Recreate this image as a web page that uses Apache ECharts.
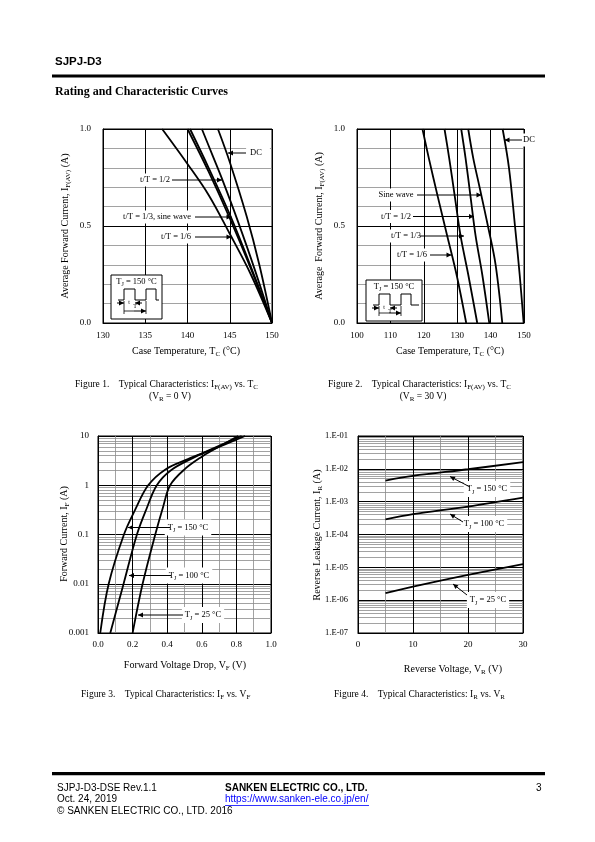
<!DOCTYPE html>
<html><head><meta charset="utf-8">
<script src="https://cdn.jsdelivr.net/npm/echarts@6/dist/echarts.min.js"></script>
<style>html,body{margin:0;padding:0;background:#fff}#c{width:595px;height:842px}</style>
</head><body><div id="c"></div>
<script>
// ---------- data ----------
// Figure 1: IF(AV) vs Tc, VR = 0 V   [Tc, IF]
const fig1_dc    = [[143.6,1.0],[145,0.83],[147,0.55],[148.5,0.3],[150,0]];
const fig1_half  = [[141.7,1.0],[143,0.86],[144.2,0.73],[146,0.52],[148,0.27],[150,0]];
const fig1_sine  = [[140.3,1.0],[142.5,0.8],[145,0.56],[147.5,0.29],[150,0]];
const fig1_third = [[140,1.0],[142.5,0.78],[145,0.54],[147.5,0.28],[150,0]];
const fig1_sixth = [[137,1.0],[140,0.82],[142.5,0.66],[145,0.46],[147.5,0.25],[150,0]];
const fig1_xticks = ['130','135','140','145','150'];
const fig1_yticks = ['0.0','0.5','1.0'];
// Figure 2: IF(AV) vs Tc, VR = 30 V  [Tc, IF]
const fig2_dc    = [[143.6,1],[145.5,0.8],[147.3,0.5],[148.7,0.25],[149.9,0]];
const fig2_sine  = [[133.3,1],[134.8,0.85],[136.7,0.7],[139.2,0.5],[141.5,0.3],[143.5,0]];
const fig2_half  = [[131.2,1],[132.5,0.85],[134,0.65],[135.5,0.45],[137.5,0.25],[139.6,0]];
const fig2_third = [[126.2,1],[127.6,0.85],[129.3,0.65],[131,0.45],[133.3,0.25],[136,0]];
const fig2_sixth = [[119.6,1],[121.5,0.85],[124.2,0.65],[127,0.45],[129.8,0.25],[132.7,0]];
const fig2_xticks = ['100','110','120','130','140','150'];
const fig2_yticks = ['0.0','0.5','1.0'];
// Figure 3: IF vs VF  [VF, IF]
const fig3_t150 = [[0.013,0.001],[0.062,0.01],[0.15,0.1],[0.215,0.32],[0.29,1],[0.39,2.1],[0.52,3.4],[0.66,5.3],[0.85,10]];
const fig3_t100 = [[0.071,0.001],[0.148,0.01],[0.225,0.1],[0.28,0.33],[0.34,1],[0.42,2],[0.55,3.6],[0.65,5.3],[0.83,10]];
const fig3_t25  = [[0.2,0.001],[0.258,0.01],[0.331,0.1],[0.375,0.35],[0.417,1],[0.5,2.1],[0.6,3.8],[0.67,5.3],[0.81,10]];
const fig3_xticks = ['0.0','0.2','0.4','0.6','0.8','1.0'];
const fig3_yticks = ['0.001','0.01','0.1','1','10'];
// Figure 4: IR vs VR
const fig4_vr   = [5,10,20,30];
const fig4_t150 = [4.4e-3,6.1e-3,9.7e-3,1.6e-2];
const fig4_t100 = [2.9e-4,4.2e-4,7.1e-4,1.33e-3];
const fig4_t25  = [1.65e-6,2.6e-6,5.9e-6,1.25e-5];
const fig4_xticks = ['0','10','20','30'];
const fig4_yticks = ['1.E-07','1.E-06','1.E-05','1.E-04','1.E-03','1.E-02','1.E-01'];

// ---------- chart ----------
const SERIF = 'Liberation Serif';
const SANS = 'Liberation Sans';
const chart = echarts.init(document.getElementById('c'), null, {renderer:'canvas', width:595, height:842});

const grids = [
  {left:103, top:129, width:169, height:194},
  {left:357, top:129, width:167, height:194},
  {left:98,  top:436, width:173, height:197},
  {left:358, top:436, width:165, height:197}
].map(g => Object.assign({show:true, borderColor:'#000', borderWidth:1, backgroundColor:'transparent'}, g));

function axis(gi, opt, ticks, margin, minorN, isLog, fs) {
  const a = {
    gridIndex: gi,
    type: isLog ? 'log' : 'value',
    min: opt.min, max: opt.max,
    axisLine: {show:true, onZero:false, lineStyle:{color:'#000', width:1}},
    axisTick: {show:false},
    axisLabel: {color:'#000', fontFamily:SERIF, fontSize: fs || 9, margin: margin,
      formatter: function (v) {
        const idx = isLog ? Math.round(Math.log10(v) - Math.log10(opt.min)) : Math.round((v - opt.min) / opt.interval);
        return ticks[idx] !== undefined ? ticks[idx] : '';
      }},
    splitLine: {show:true, lineStyle:{color:'#000', width:1}},
    minorTick: {show:false, splitNumber: minorN || 5},
    minorSplitLine: {show: !!minorN, lineStyle:{color:'#8a8a8a', width:0.8}}
  };
  if (isLog) { a.logBase = 10; } else { a.interval = opt.interval; }
  return a;
}

const xAxes = [
  axis(0, {min:130, max:150, interval:5}, fig1_xticks, 8, 0),
  axis(1, {min:100, max:150, interval:10}, fig2_xticks, 8, 0),
  axis(2, {min:0, max:1, interval:0.2}, fig3_xticks, 7, 2),
  axis(3, {min:0, max:30, interval:10}, fig4_xticks, 7, 2)
];
const yAxes = [
  axis(0, {min:0, max:1, interval:0.5}, fig1_yticks, 12, 5),
  axis(1, {min:0, max:1, interval:0.5}, fig2_yticks, 12, 5),
  axis(2, {min:0.001, max:10}, fig3_yticks, 9, 9, true),
  axis(3, {min:1e-7, max:1e-1}, fig4_yticks, 10, 9, true, 8.5)
];

function curve(gi, data) {
  return {type:'line', xAxisIndex:gi, yAxisIndex:gi, data:data, showSymbol:false, symbol:'none',
    smooth:0.35, silent:true, animation:false, z:5,
    lineStyle:{color:'#000', width:1.8}};
}
const pairs = (xs, ys) => xs.map((x, i) => [x, ys[i]]);

const series = [
  curve(0, fig1_dc), curve(0, fig1_half), curve(0, fig1_sine), curve(0, fig1_third), curve(0, fig1_sixth),
  curve(1, fig2_dc), curve(1, fig2_sine), curve(1, fig2_half), curve(1, fig2_third), curve(1, fig2_sixth),
  curve(2, fig3_t150), curve(2, fig3_t100), curve(2, fig3_t25),
  curve(3, pairs(fig4_vr, fig4_t150)), curve(3, pairs(fig4_vr, fig4_t100)), curve(3, pairs(fig4_vr, fig4_t25))
];

// ---------- annotations / page text ----------
const G = [];
function txt(x, y, str, o) {
  o = o || {};
  const fs = o.size || 9;
  const st = {
    text: str, x: 0, y: 0,
    fontFamily: o.family || SERIF, fontSize: fs, fontWeight: o.weight || 'normal',
    fill: o.color || '#000', align: o.align || 'left', verticalAlign: 'middle',
    rich: {s: {fontFamily: o.family || SERIF, fontSize: Math.round(fs * 0.72), padding:[6,0,0,0], fill: o.color || '#000'}}
  };
  if (o.bg) { st.backgroundColor = '#fff'; st.padding = o.pad || [2, 3]; }
  G.push({type:'text', x:x, y:y, rotation: o.rot || 0, z:100, silent:true, style: st});
}
function line(x1, y1, x2, y2, w, color) {
  G.push({type:'line', z:100, silent:true, shape:{x1, y1, x2, y2}, style:{stroke: color || '#000', lineWidth: w || 1}});
}
function arrow(x1, y1, x2, y2) {
  line(x1, y1, x2, y2, 1);
  const dx = x2 - x1, dy = y2 - y1, L = Math.hypot(dx, dy);
  const ux = dx / L, uy = dy / L, nx = -uy, ny = ux, h = 5, w = 2.4;
  G.push({type:'polygon', z:101, silent:true, shape:{points:[[x2, y2],
    [x2 - ux*h + nx*w, y2 - uy*h + ny*w], [x2 - ux*h - nx*w, y2 - uy*h - ny*w]]}, style:{fill:'#000'}});
}
function inset(x0, y0, w, h) {
  G.push({type:'rect', z:90, silent:true, shape:{x:x0, y:y0, width:w, height:h}, style:{fill:'#fff', stroke:'#000', lineWidth:1}});
  txt(x0 + w/2, y0 + 6.5, 'T{s|J} = 150 °C', {size:8.5, align:'center'});
  const lo = y0 + 25, hi = y0 + 14;
  const a = x0 + 7, r1 = x0 + 13, f1 = x0 + 24, r2 = x0 + 35, f2 = x0 + 45, e = x0 + w - 3;
  G.push({type:'polyline', z:100, silent:true, shape:{points:[[a,lo],[r1,lo],[r1,hi],[f1,hi],[f1,lo],[r2,lo],[r2,hi],[f2,hi],[f2,lo],[e,lo]]},
    style:{stroke:'#000', lineWidth:1, fill:null}});
  arrow(a - 1, lo + 3, r1, lo + 3);
  arrow(f1 + 7, lo + 3, f1, lo + 3);
  txt(r1 + 5, lo + 2, 't', {size:6, align:'center'});
  line(r1, lo + 1, r1, y0 + h - 5, 0.8);
  line(r2, lo + 1, r2, y0 + h - 5, 0.8);
  arrow(r1 + 10, y0 + h - 8, r2, y0 + h - 8);
  line(r1, y0 + h - 8, r1 + 10, y0 + h - 8, 0.8);
  txt(f1, lo + 6, 'T', {size:6, align:'center'});
}

// header
txt(55, 62, 'SJPJ-D3', {family:SANS, size:11.5, weight:'bold'});
G.push({type:'rect', z:100, silent:true, shape:{x:52, y:74.5, width:493, height:3}, style:{fill:'#000'}});
txt(55, 92, 'Rating and Characteristic Curves', {size:12, weight:'bold'});

// Figure 1 annotations
txt(65, 226, 'Average Forward Current, I{s|F(AV)} (A)', {size:10, align:'center', rot:Math.PI/2});
txt(186, 351, 'Case Temperature, T{s|C} (°C)', {size:10, align:'center'});
txt(258, 153, 'DC', {size:8.5, align:'center', bg:true, pad:[3,8,3,4]});
arrow(246, 153, 228, 153);
txt(155, 180, 't/T = 1/2', {size:8.5, align:'center', bg:true});
arrow(172, 180, 222, 180);
txt(157, 217, 't/T = 1/3, sine wave', {size:8.5, align:'center', bg:true});
arrow(195, 217, 231.5, 217);
txt(176, 237, 't/T = 1/6', {size:8.5, align:'center', bg:true});
arrow(195, 237, 231.5, 237);
inset(111, 275, 51, 44);
txt(75, 384, 'Figure 1.    Typical Characteristics: I{s|F(AV)} vs. T{s|C}', {size:9.5});
txt(170, 396, '(V{s|R} = 0 V)', {size:9.5, align:'center'});

// Figure 2 annotations
txt(319, 226, 'Average  Forward Current, I{s|F(AV)} (A)', {size:10, align:'center', rot:Math.PI/2});
txt(450, 351, 'Case Temperature, T{s|C} (°C)', {size:10, align:'center'});
txt(529, 140, 'DC', {size:8.5, align:'center', bg:true, pad:[2,1]});
arrow(522, 140, 504.5, 140);
txt(396, 195, 'Sine wave', {size:8.5, align:'center', bg:true});
arrow(417, 195, 481.5, 195);
txt(396, 216.5, 't/T = 1/2', {size:8.5, align:'center', bg:true});
arrow(413, 216.5, 474, 216.5);
txt(406, 236, 't/T = 1/3', {size:8.5, align:'center', bg:true});
arrow(420, 236, 464, 236);
txt(412, 255, 't/T = 1/6', {size:8.5, align:'center', bg:true});
arrow(430, 255, 451.5, 255);
inset(366, 280, 56, 41);
txt(328, 384, 'Figure 2.    Typical Characteristics: I{s|F(AV)} vs. T{s|C}', {size:9.5});
txt(423, 396, '(V{s|R} = 30 V)', {size:9.5, align:'center'});

// Figure 3 annotations
txt(64, 534, 'Forward Current, I{s|F} (A)', {size:10, align:'center', rot:Math.PI/2});
txt(185, 665, 'Forward Voltage Drop, V{s|F} (V)', {size:10, align:'center'});
txt(188, 527.5, 'T{s|J} = 150 °C', {size:8.5, align:'center', bg:true});
arrow(170, 527.5, 128, 527.5);
txt(189, 575.5, 'T{s|J} = 100 °C', {size:8.5, align:'center', bg:true});
arrow(171, 575.5, 129, 575.5);
txt(203, 615, 'T{s|J} = 25 °C', {size:8.5, align:'center', bg:true});
arrow(183, 615, 138, 615);
txt(81, 694, 'Figure 3.    Typical Characteristics: I{s|F} vs. V{s|F}', {size:9.5});

// Figure 4 annotations
txt(317, 535, 'Reverse Leakage Current, I{s|R} (A)', {size:10, align:'center', rot:Math.PI/2});
txt(453, 669, 'Reverse Voltage, V{s|R} (V)', {size:10, align:'center'});
txt(487, 489, 'T{s|J} = 150 °C', {size:8.5, align:'center', bg:true});
arrow(470, 487, 450, 476.5);
txt(484, 524, 'T{s|J} = 100 °C', {size:8.5, align:'center', bg:true});
arrow(463, 522, 450, 514);
txt(488, 600, 'T{s|J} = 25 °C', {size:8.5, align:'center', bg:true});
arrow(467, 595, 453, 584);
txt(334, 694, 'Figure 4.    Typical Characteristics: I{s|R} vs. V{s|R}', {size:9.5});

// footer
G.push({type:'rect', z:100, silent:true, shape:{x:52, y:772, width:493, height:3.2}, style:{fill:'#000'}});
txt(57, 788, 'SJPJ-D3-DSE Rev.1.1', {family:SANS, size:10});
txt(57, 799.5, 'Oct. 24, 2019', {family:SANS, size:10});
txt(57, 811, '© SANKEN ELECTRIC CO., LTD. 2016', {family:SANS, size:10});
txt(225, 788, 'SANKEN ELECTRIC CO., LTD.', {family:SANS, size:10, weight:'bold'});
txt(225, 799.5, 'https://www.sanken-ele.co.jp/en/', {family:SANS, size:10, color:'#0000ff'});
line(225, 805.5, 369, 805.5, 0.8, '#0000ff');
txt(536, 788, '3', {family:SANS, size:10});

chart.setOption({
  animation: false,
  backgroundColor: '#fff',
  grid: grids,
  xAxis: xAxes,
  yAxis: yAxes,
  series: series,
  graphic: G
});
</script>
</body></html>
